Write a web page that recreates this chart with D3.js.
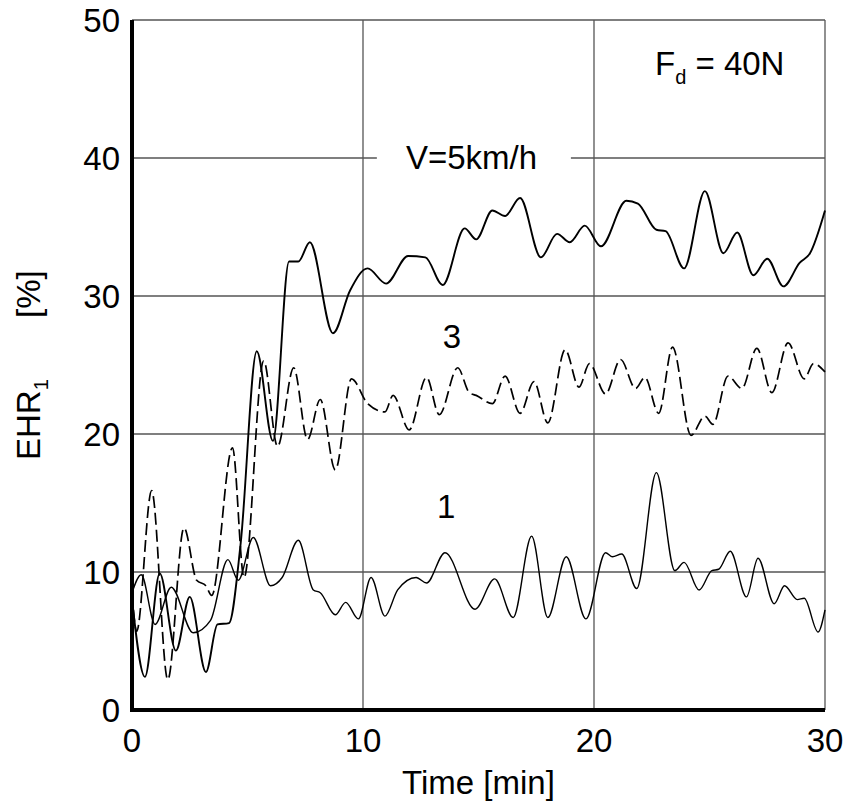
<!DOCTYPE html>
<html>
<head>
<meta charset="utf-8">
<script src="https://cdnjs.cloudflare.com/ajax/libs/d3/7.8.5/d3.min.js"></script>
<style>
  body { margin: 0; background: #fff; }
  text { font-family: "Liberation Sans", Arial, sans-serif; fill: #000; }
</style>
</head>
<body>
<div id="chart"></div>
<script>
// EHR1 vs time, Fd = 40N

const xTicks = [0, 10, 20, 30];
const yTicks = [0, 10, 20, 30, 40, 50];

// upper solid curve (V=5km/h)
const topTime = [0, 0.56, 1.2, 1.9, 2.5, 3.2, 3.7, 4.2, 4.7, 5.4, 6.1, 6.8, 7.2, 7.7, 8.7, 9.44, 10.2, 11.0, 11.95, 12.7, 13.45, 14.4, 14.9, 15.6, 16.15, 16.8, 17.7, 18.4, 18.95, 19.6, 20.3, 21.4, 21.9, 22.7, 23.1, 23.9, 24.8, 25.6, 26.2, 26.9, 27.5, 28.2, 28.9, 29.35, 30];
const topValue = [8, 2.4, 9.9, 4.3, 8.2, 2.75, 6.2, 6.3, 12, 26, 19.5, 32.5, 32.5, 33.9, 27.3, 30.4, 32.0, 30.9, 32.9, 32.8, 30.8, 34.9, 34.1, 36.2, 35.8, 37.1, 32.8, 34.5, 33.9, 35.1, 33.6, 36.9, 36.7, 34.8, 34.7, 32.0, 37.6, 33.1, 34.6, 31.5, 32.7, 30.7, 32.4, 33.1, 36.2];

// dashed curve "3"
const midTime = [0, 0.2, 0.85, 1.55, 2.25, 2.8, 3.2, 3.45, 4.35, 4.85, 5.7, 6.3, 7.0, 7.6, 8.15, 8.8, 9.5, 10.2, 10.95, 11.3, 12.0, 12.75, 13.3, 14.1, 14.6, 14.9, 15.6, 16.15, 16.8, 17.4, 18.0, 18.75, 19.35, 19.8, 20.5, 21.15, 21.8, 22.2, 22.8, 23.4, 24.2, 24.8, 25.15, 25.8, 26.4, 27.05, 27.7, 28.4, 29.1, 29.5, 30];
const midValue = [8.5, 5.7, 15.9, 2.2, 13.2, 9.4, 9.0, 8.3, 19.0, 9.6, 25.3, 19.1, 24.8, 19.6, 22.5, 17.4, 24.0, 22.2, 21.6, 22.8, 20.3, 24.1, 21.4, 24.8, 23.0, 22.8, 22.2, 24.2, 21.5, 23.8, 20.8, 26.1, 23.4, 25.1, 22.9, 25.4, 23.3, 24.1, 21.5, 26.3, 19.9, 21.3, 20.7, 24.2, 23.3, 26.2, 23.0, 26.6, 24.0, 25.1, 24.5];

// lower solid curve "1"
const lowTime = [0, 0.4, 1.0, 1.7, 2.65, 3.4, 4.15, 4.6, 5.25, 6.0, 6.5, 7.2, 7.85, 8.15, 8.8, 9.25, 9.8, 10.35, 10.95, 11.5, 12.3, 12.75, 13.55, 14.85, 15.7, 16.5, 17.3, 18.0, 18.8, 19.65, 20.5, 20.8, 21.2, 21.85, 22.7, 23.5, 23.9, 24.55, 25.1, 25.4, 25.9, 26.6, 27.1, 27.8, 28.25, 28.8, 29.1, 29.7, 30];
const lowValue = [8.5, 9.8, 6.2, 8.9, 5.6, 6.5, 10.9, 9.4, 12.5, 9.0, 9.6, 12.3, 8.7, 8.5, 6.9, 7.8, 6.6, 9.6, 6.8, 8.7, 9.6, 9.2, 11.4, 7.3, 9.5, 6.7, 12.6, 6.7, 11.1, 6.6, 11.4, 11.1, 11.3, 8.8, 17.2, 10.1, 10.7, 8.7, 10.1, 10.2, 11.5, 8.2, 11.0, 7.7, 9.0, 8.0, 8.1, 5.65, 7.25];

const W = 850, H = 810;
const margin = { top: 20, right: 25, bottom: 100, left: 132 };
const width = W - margin.left - margin.right;
const height = H - margin.top - margin.bottom;

const svg = d3.select('#chart').append('svg')
    .attr('width', W)
    .attr('height', H);
const g = svg.append('g').attr('transform', `translate(${margin.left},${margin.top})`);

const x = d3.scaleLinear().domain([0, 30]).range([0, width]);
const y = d3.scaleLinear().domain([0, 50]).range([height, 0]);

// grid
g.selectAll('.hgrid').data(yTicks.filter(d => d > 0)).enter()
    .append('line')
    .attr('x1', 0).attr('x2', width)
    .attr('y1', d => y(d)).attr('y2', d => y(d))
    .attr('stroke', '#555').attr('stroke-width', 1.3);

g.selectAll('.vgrid').data(xTicks.filter(d => d > 0)).enter()
    .append('line')
    .attr('x1', d => x(d)).attr('x2', d => x(d))
    .attr('y1', 0).attr('y2', height)
    .attr('stroke', '#555').attr('stroke-width', 1.3);

// V label breaks the 40 line
const vLabel = g.append('g');
vLabel.append('rect')
    .attr('x', x(10.6)).attr('y', y(40) - 4)
    .attr('width', x(19) - x(10.6)).attr('height', 8)
    .attr('fill', '#fff');
vLabel.append('text')
    .attr('x', x(14.7)).attr('y', y(40) + 11)
    .attr('text-anchor', 'middle')
    .style('font-size', '33px')
    .text('V=5km/h');

// curves
const line = d3.line()
    .x(d => x(d[0]))
    .y(d => y(d[1]))
    .curve(d3.curveMonotoneX);

const series = [
    { t: lowTime, v: lowValue, w: 1.4, dash: null },
    { t: midTime, v: midValue, w: 1.7, dash: '12,5' },
    { t: topTime, v: topValue, w: 1.9, dash: null }
];

series.forEach(s => {
    g.append('path')
        .datum(d3.zip(s.t, s.v))
        .attr('d', line)
        .attr('fill', 'none')
        .attr('stroke', '#000')
        .attr('stroke-width', s.w)
        .attr('stroke-dasharray', s.dash);
});

// axes (thick left and bottom)
g.append('line')
    .attr('x1', 0).attr('x2', 0).attr('y1', 0).attr('y2', height + 1.5)
    .attr('stroke', '#000').attr('stroke-width', 4);
g.append('line')
    .attr('x1', -2).attr('x2', width).attr('y1', height).attr('y2', height)
    .attr('stroke', '#000').attr('stroke-width', 4);

// tick labels
g.selectAll('.ylab').data(yTicks).enter()
    .append('text')
    .attr('x', -12).attr('y', d => y(d) + 12)
    .attr('text-anchor', 'end')
    .style('font-size', '33px')
    .text(d => d);

g.selectAll('.xlab').data(xTicks).enter()
    .append('text')
    .attr('x', d => x(d)).attr('y', height + 42)
    .attr('text-anchor', 'middle')
    .style('font-size', '33px')
    .text(d => d);

// axis titles
g.append('text')
    .attr('x', width / 2).attr('y', height + 84)
    .attr('text-anchor', 'middle')
    .style('font-size', '33px')
    .text('Time [min]');

const yt = svg.append('text')
    .attr('transform', 'translate(40,460) rotate(-90)')
    .style('font-size', '33px');
yt.append('tspan').text('EHR');
yt.append('tspan').attr('dy', 8).style('font-size', '20px').text('1');

svg.append('text')
    .attr('transform', 'translate(40,318) rotate(-90)')
    .style('font-size', '33px')
    .text('[%]');

// annotations
const fd = g.append('text')
    .attr('x', 655 - margin.left).attr('y', 75 - margin.top)
    .style('font-size', '33px');
fd.append('tspan').text('F');
fd.append('tspan').attr('dy', 9).style('font-size', '20px').text('d');
fd.append('tspan').attr('dy', -9).text(' = 40N');

g.append('text')
    .attr('x', x(13.85)).attr('y', 348 - margin.top)
    .attr('text-anchor', 'middle')
    .style('font-size', '33px')
    .text('3');

g.append('text')
    .attr('x', x(13.6)).attr('y', 518 - margin.top)
    .attr('text-anchor', 'middle')
    .style('font-size', '33px')
    .text('1');
</script>
</body>
</html>
